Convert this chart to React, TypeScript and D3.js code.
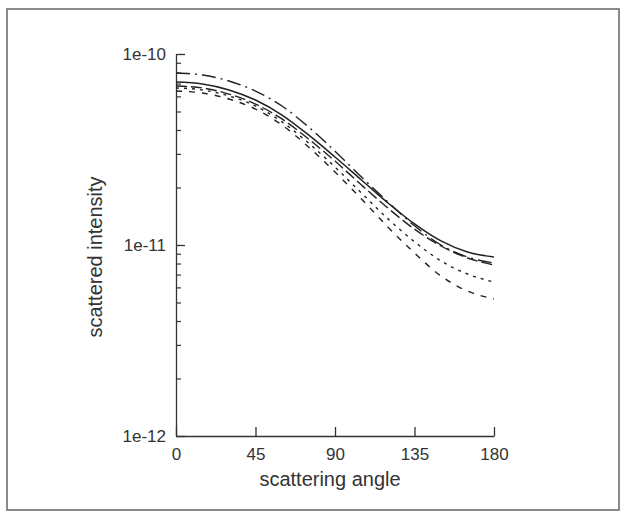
import { useEffect, useRef } from "react";
import * as d3 from "d3";

const angles = [0, 15, 30, 45, 60, 75, 90, 105, 120, 135, 150, 165, 180];

const solid = [7.13e-11, 6.97e-11, 6.48e-11, 5.74e-11, 4.79e-11, 3.77e-11, 2.89e-11, 2.19e-11, 1.66e-11, 1.29e-11, 1.05e-11, 9.19e-12, 8.65e-12];
const dashDot = [7.95e-11, 7.76e-11, 7.22e-11, 6.4e-11, 5.34e-11, 4.15e-11, 3.1e-11, 2.27e-11, 1.68e-11, 1.26e-11, 1.0e-11, 8.65e-12, 8.05e-12];
const longDash = [6.8e-11, 6.64e-11, 6.17e-11, 5.47e-11, 4.57e-11, 3.59e-11, 2.75e-11, 2.06e-11, 1.56e-11, 1.21e-11, 9.88e-12, 8.55e-12, 7.86e-12];
const dotted = [6.64e-11, 6.48e-11, 6.03e-11, 5.34e-11, 4.41e-11, 3.42e-11, 2.56e-11, 1.87e-11, 1.37e-11, 1.04e-11, 8.25e-12, 7.05e-12, 6.4e-12];
const dashed = [6.4e-11, 6.25e-11, 5.81e-11, 5.15e-11, 4.25e-11, 3.26e-11, 2.41e-11, 1.74e-11, 1.24e-11, 9.08e-12, 6.88e-12, 5.74e-12, 5.22e-12];

const xTicks = [0, 45, 90, 135, 180];
const yTicks = [1e-12, 1e-11, 1e-10];
const yTickLabels = ["1e-12", "1e-11", "1e-10"];

export default function App() {
  const ref = useRef<SVGSVGElement>(null);

  useEffect(() => {
    const svg = d3.select(ref.current);
    svg.selectAll("*").remove();

    const left = 176, right = 494, top = 54, bottom = 436;
    const font = "'Liberation Sans', Arial, sans-serif";
    const ink = "#333";

    const x = d3.scaleLinear().domain([0, 180]).range([left, right]);
    const y = d3.scaleLog().domain([1e-12, 1e-10]).range([bottom, top]);

    // frame
    svg.append("rect")
      .attr("x", 7).attr("y", 9)
      .attr("width", 612).attr("height", 501)
      .attr("fill", "white")
      .attr("stroke", "#666")
      .attr("stroke-width", 1.5);

    // minor y ticks
    const minor: number[] = [];
    [1e-12, 1e-11].forEach(d => {
      for (let k = 2; k <= 9; k++) minor.push(d * k);
    });
    const yMinor = svg.append("g")
      .attr("transform", `translate(${left},0)`)
      .call(d3.axisLeft(y).tickValues(minor).tickSize(-5).tickSizeOuter(0).tickFormat(() => ""));
    yMinor.select(".domain").remove();
    yMinor.selectAll("line").attr("stroke", ink).attr("stroke-width", 1.2);

    // major y ticks
    const yAxis = svg.append("g")
      .attr("transform", `translate(${left},0)`)
      .call(d3.axisLeft(y)
        .tickValues(yTicks)
        .tickSize(-9)
        .tickSizeOuter(0)
        .tickPadding(10)
        .tickFormat((d, i) => yTickLabels[i]));
    yAxis.select(".domain").attr("stroke", ink).attr("stroke-width", 1.3);
    yAxis.selectAll("line").attr("stroke", ink).attr("stroke-width", 1.3);
    yAxis.selectAll("text")
      .attr("fill", ink)
      .style("font-family", font)
      .style("font-size", "17px");

    // x axis
    const xAxis = svg.append("g")
      .attr("transform", `translate(0,${bottom})`)
      .call(d3.axisBottom(x).tickValues(xTicks).tickSize(-9).tickSizeOuter(0).tickPadding(12));
    xAxis.select(".domain").attr("stroke", ink).attr("stroke-width", 1.3);
    xAxis.selectAll("line").attr("stroke", ink).attr("stroke-width", 1.3);
    xAxis.selectAll("text")
      .attr("fill", ink)
      .style("font-family", font)
      .style("font-size", "17px");

    // axis labels
    svg.append("text")
      .attr("x", 330)
      .attr("y", 486)
      .attr("text-anchor", "middle")
      .attr("fill", ink)
      .style("font-family", font)
      .style("font-size", "20px")
      .text("scattering angle");

    svg.append("text")
      .attr("transform", "translate(102,257) rotate(-90)")
      .attr("text-anchor", "middle")
      .attr("fill", ink)
      .style("font-family", font)
      .style("font-size", "20px")
      .text("scattered intensity");

    // curves
    const series = [
      { values: solid, dash: null, width: 1.5 },
      { values: dashDot, dash: "14,5,2,5", width: 1.4 },
      { values: longDash, dash: "11,4", width: 1.4 },
      { values: dotted, dash: "3,5", width: 1.4 },
      { values: dashed, dash: "6,7", width: 1.4 },
    ];

    const line = d3.line<number>()
      .x((d, i) => x(angles[i]))
      .y(d => y(d))
      .curve(d3.curveMonotoneX);

    series.forEach(s => {
      svg.append("path")
        .datum(s.values)
        .attr("d", line)
        .attr("fill", "none")
        .attr("stroke", "#222")
        .attr("stroke-width", s.width)
        .attr("stroke-dasharray", s.dash);
    });
  }, []);

  return (
    <svg
      ref={ref}
      width={621}
      height={512}
      style={{ position: "absolute", left: 0, top: 0, background: "white" }}
    />
  );
}
